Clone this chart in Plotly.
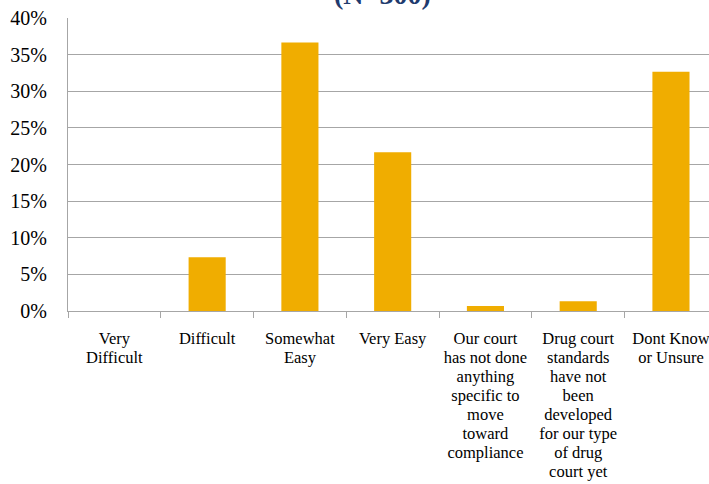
import plotly.graph_objects as go

category_lines = [
    ["Very", "Difficult"],
    ["Difficult"],
    ["Somewhat", "Easy"],
    ["Very Easy"],
    ["Our court", "has not done", "anything", "specific to", "move", "toward", "compliance"],
    ["Drug court", "standards", "have not", "been", "developed", "for our type", "of drug", "court yet"],
    ["Dont Know", "or Unsure"],
]
values = [0.0, 0.0733, 0.3667, 0.2167, 0.0067, 0.0133, 0.3267]
title_text = "(N=300)"

FONT = "Liberation Serif, DejaVu Serif, serif"
LABEL_PX = 16.5

categories = [
    "<br>".join('<span style="font-size:%.1fpx">%s</span>' % (LABEL_PX, ln) for ln in lines)
    for lines in category_lines
]

fig = go.Figure()
fig.add_trace(go.Bar(
    x=categories, y=values,
    marker=dict(color="#F0AD00", line=dict(width=0)),
    width=0.4,
    hoverinfo="skip",
))

fig.update_layout(
    width=709, height=484,
    margin=dict(l=68, r=0, t=18, b=173),
    paper_bgcolor="white", plot_bgcolor="white",
    font=dict(family=FONT, size=15, color="#000000"),
    showlegend=False,
)
fig.update_xaxes(
    range=[-0.5, 6.41],
    automargin=False,
    showgrid=False,
    showline=True, linecolor="#A6A6A6", linewidth=1,
    ticks="outside", tickson="boundaries", ticklen=6, tickcolor="#A6A6A6",
    ticklabelstandoff=14, tickangle=0,
    tickfont=dict(size=14.7),
)
fig.update_yaxes(
    range=[0, 0.4], dtick=0.05, tickformat=".0%",
    automargin=False,
    showgrid=True, gridcolor="#A6A6A6", gridwidth=1,
    showline=True, linecolor="#A6A6A6", linewidth=1,
    ticks="", tickfont=dict(size=20),
    ticklabelstandoff=16,
    zeroline=False,
)
fig.add_annotation(
    text="<b>" + title_text + "</b>",
    xref="paper", yref="paper", x=0.491, y=1, yanchor="bottom", yshift=6,
    showarrow=False,
    font=dict(family=FONT, size=28, color="#1F3B6E"),
)

fig.write_html(
    "out.html",
    config={"displayModeBar": False},
    post_script="document.body.style.margin='0';document.body.style.overflow='hidden';",
)
